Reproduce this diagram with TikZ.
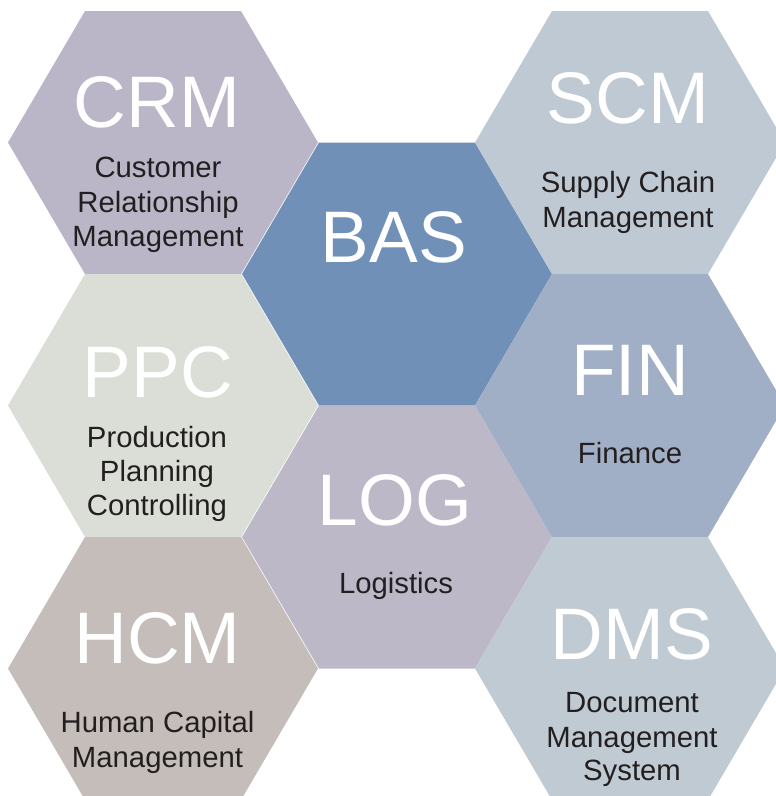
\documentclass[tikz,border=0pt]{standalone}
\usepackage{fontspec}
\setmainfont{Liberation Sans}
\begin{document}
\begin{tikzpicture}[x=1pt,y=-1pt,
  abbr/.style={anchor=base,inner sep=0pt,text=white,font=\fontsize{73}{73}\selectfont},
  subline/.style={anchor=base,inner sep=0pt,text=subtext,font=\fontsize{29.3}{33}\selectfont}]
\definecolor{crmcol}{RGB}{186,182,199}
\definecolor{bascol}{RGB}{112,144,183}
\definecolor{scmcol}{RGB}{191,201,211}
\definecolor{ppccol}{RGB}{219,222,214}
\definecolor{fincol}{RGB}{161,175,198}
\definecolor{logcol}{RGB}{188,184,200}
\definecolor{hcmcol}{RGB}{197,189,186}
\definecolor{dmscol}{RGB}{192,202,211}
\definecolor{subtext}{RGB}{35,31,32}
% flat-topped hexagon: centre (#1,#2), fill colour #3
\newcommand\hexcell[3]{%
  \fill[#3] ({#1-155},{#2}) -- ({#1-78},{#2-131.5}) -- ({#1+78},{#2-131.5})
    -- ({#1+155},{#2}) -- ({#1+78},{#2+131.5}) -- ({#1-78},{#2+131.5}) -- cycle;}
\useasboundingbox (0,0) rectangle (776,796);
\clip (0,0) rectangle (776,796);
\hexcell{163}{142.5}{crmcol}
\hexcell{163}{405.5}{ppccol}
\hexcell{163}{668.5}{hcmcol}
\hexcell{397}{274}{bascol}
\hexcell{397}{537}{logcol}
\hexcell{630}{142.5}{scmcol}
\hexcell{630}{405.5}{fincol}
\hexcell{630}{668.5}{dmscol}
% module abbreviations
\node[abbr] (crm) at (157,127) {CRM};
\node[abbr] (scm) at (628,123) {SCM};
\node[abbr] (bas) at (394,262) {BAS};
\node[abbr] (ppc) at (158,397) {PPC};
\node[abbr] (fin) at (630,395) {FIN};
\node[abbr] (log) at (395,525) {LOG};
\node[abbr] (hcm) at (157.5,663) {HCM};
\node[abbr] (dms) at (632,659) {DMS};
% module descriptions
\node[subline] (crm1) at (158,177) {Customer};
\node[subline] (crm2) at (158,212) {Relationship};
\node[subline] (crm3) at (158,246) {Management};
\node[subline] (scm1) at (628,192) {Supply Chain};
\node[subline] (scm2) at (628,227) {Management};
\node[subline] (ppc1) at (157,447) {Production};
\node[subline] (ppc2) at (157,481) {Planning};
\node[subline] (ppc3) at (157,515) {Controlling};
\node[subline] (fin1) at (630,463) {Finance};
\node[subline] (log1) at (396,593) {Logistics};
\node[subline] (hcm1) at (157.5,732) {Human Capital};
\node[subline] (hcm2) at (157.5,767) {Management};
\node[subline] (dms1) at (632,712) {Document};
\node[subline] (dms2) at (632,747) {Management};
\node[subline] (dms3) at (632,780) {System};
\end{tikzpicture}
\end{document}
